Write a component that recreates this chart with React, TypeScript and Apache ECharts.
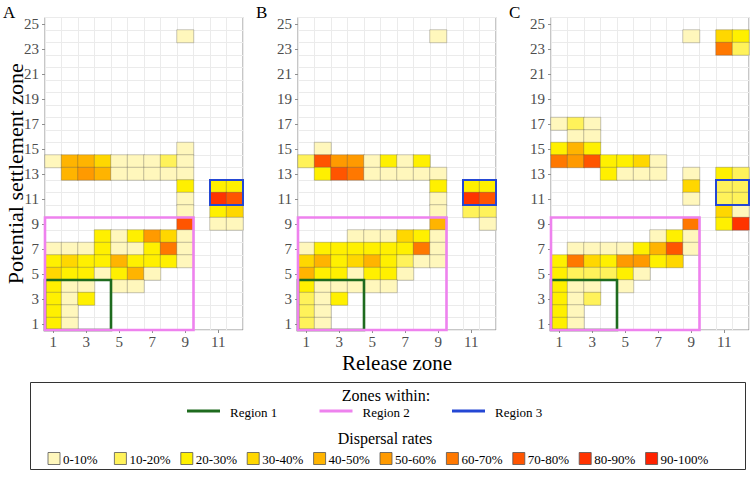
import React, { useEffect, useRef } from 'react';
import * as echarts from 'echarts';

const releaseZones = ['1', '2', '3', '4', '5', '6', '7', '8', '9', '10', '11', '12'];
const settlementZones = ['1', '2', '3', '4', '5', '6', '7', '8', '9', '10', '11', '12', '13', '14', '15', '16', '17', '18', '19', '20', '21', '22', '23', '24', '25'];

const rateLabels = ['0-10%', '10-20%', '20-30%', '30-40%', '40-50%', '50-60%', '60-70%', '70-80%', '80-90%', '90-100%'];
const rateColors = ['#FFF7BC', '#FFF25A', '#FFF000', '#FFD700', '#FFB400', '#FF9A00', '#FF7800', '#FF5500', '#FF3300', '#FF2200'];

const panelLabels = ['A', 'B', 'C'];

// [release zone, settlement zone, dispersal-rate class]
const panelA = [
  [9, 24, 0],
  [9, 15, 0],
  [1, 14, 0], [2, 14, 4], [3, 14, 4], [4, 14, 3], [5, 14, 0], [6, 14, 0], [7, 14, 0], [8, 14, 1], [9, 14, 0],
  [2, 13, 4], [3, 13, 5], [4, 13, 4], [5, 13, 0], [6, 13, 0], [7, 13, 0], [8, 13, 0], [9, 13, 0],
  [9, 12, 2], [11, 12, 2], [12, 12, 2],
  [9, 11, 0], [11, 11, 8], [12, 11, 7],
  [9, 10, 0], [11, 10, 2], [12, 10, 3],
  [9, 9, 7], [11, 9, 0], [12, 9, 0],
  [4, 8, 2], [5, 8, 0], [6, 8, 2], [7, 8, 5], [8, 8, 3], [9, 8, 0],
  [1, 7, 0], [2, 7, 0], [3, 7, 0], [4, 7, 2], [5, 7, 0], [6, 7, 0], [7, 7, 2], [8, 7, 6], [9, 7, 0],
  [1, 6, 2], [2, 6, 3], [3, 6, 2], [4, 6, 2], [5, 6, 4], [6, 6, 2], [7, 6, 2], [8, 6, 2], [9, 6, 0],
  [1, 5, 3], [2, 5, 2], [3, 5, 2], [4, 5, 0], [5, 5, 2], [6, 5, 4], [7, 5, 0],
  [1, 4, 2], [2, 4, 0], [3, 4, 0], [5, 4, 0], [6, 4, 0],
  [1, 3, 2], [2, 3, 0], [3, 3, 2],
  [1, 2, 2], [2, 2, 0],
  [1, 1, 2], [2, 1, 0],
];

const panelB = [
  [9, 24, 0],
  [2, 15, 0],
  [1, 14, 1], [2, 14, 7], [3, 14, 5], [4, 14, 5], [5, 14, 0], [6, 14, 2], [7, 14, 0], [8, 14, 2],
  [2, 13, 2], [3, 13, 7], [4, 13, 6], [5, 13, 0], [6, 13, 0], [7, 13, 0], [8, 13, 0], [9, 13, 0],
  [9, 12, 2], [11, 12, 2], [12, 12, 2],
  [9, 11, 0], [11, 11, 8], [12, 11, 7],
  [9, 10, 0], [11, 10, 1], [12, 10, 1],
  [9, 9, 4], [12, 9, 0],
  [4, 8, 0], [5, 8, 0], [6, 8, 0], [7, 8, 3], [8, 8, 2], [9, 8, 0],
  [1, 7, 0], [2, 7, 2], [3, 7, 2], [4, 7, 2], [5, 7, 2], [6, 7, 2], [7, 7, 2], [8, 7, 6], [9, 7, 0],
  [1, 6, 3], [2, 6, 4], [3, 6, 2], [4, 6, 3], [5, 6, 4], [6, 6, 2], [7, 6, 1], [8, 6, 0], [9, 6, 0],
  [1, 5, 4], [2, 5, 2], [3, 5, 2], [4, 5, 0], [5, 5, 2], [6, 5, 2], [7, 5, 0],
  [1, 4, 2], [2, 4, 0], [3, 4, 0], [4, 4, 0], [5, 4, 0], [6, 4, 0],
  [1, 3, 1], [2, 3, 0], [3, 3, 2],
  [1, 2, 1], [2, 2, 0],
  [1, 1, 1], [2, 1, 0],
];

const panelC = [
  [9, 24, 0], [11, 24, 3], [12, 24, 2],
  [11, 23, 6], [12, 23, 1],
  [1, 17, 0], [2, 17, 1], [3, 17, 0],
  [2, 16, 0], [3, 16, 0],
  [1, 15, 2], [2, 15, 4], [3, 15, 2],
  [1, 14, 6], [2, 14, 5], [3, 14, 7], [4, 14, 2], [5, 14, 2], [6, 14, 3], [7, 14, 0],
  [4, 13, 2], [5, 13, 0], [6, 13, 0], [7, 13, 0], [9, 13, 0], [11, 13, 2], [12, 13, 1],
  [9, 12, 3], [11, 12, 1], [12, 12, 1],
  [9, 11, 0], [11, 11, 1], [12, 11, 1],
  [11, 10, 3], [12, 10, 0],
  [9, 9, 6], [11, 9, 2], [12, 9, 8],
  [7, 8, 0], [8, 8, 2], [9, 8, 0],
  [2, 7, 0], [3, 7, 0], [4, 7, 0], [5, 7, 0], [6, 7, 2], [7, 7, 4], [8, 7, 7], [9, 7, 0],
  [1, 6, 2], [2, 6, 6], [3, 6, 3], [4, 6, 2], [5, 6, 5], [6, 6, 5], [7, 6, 2], [8, 6, 3],
  [1, 5, 2], [2, 5, 1], [3, 5, 1], [4, 5, 1], [5, 5, 2], [6, 5, 0],
  [1, 4, 2], [2, 4, 0], [3, 4, 0], [5, 4, 0],
  [1, 3, 2], [2, 3, 0], [3, 3, 1],
  [1, 2, 2], [2, 2, 0],
  [1, 1, 2], [2, 1, 0],
];

const regionNames = ['Region 1', 'Region 2', 'Region 3'];
const regionColors = ['#1E6B1E', '#EE82EE', '#2447D4'];
// [release from, settlement from, release to, settlement to]
const regionBoxes = [
  [1, 1, 4, 4],
  [1, 1, 9, 9],
  [11, 11, 12, 12],
];

const FONT = 'Liberation Serif, serif';
const panels = [panelA, panelB, panelC];
const gridLefts = [45, 298, 551];
const GRID_TOP = 17.5;
const GRID_W = 198;
const GRID_H = 312.5;

export default function App() {
  const ref = useRef<HTMLDivElement>(null);

  useEffect(() => {
    if (!ref.current) return;
    const chart = echarts.init(ref.current, null, { renderer: 'svg' });

    const grid = gridLefts.map((left) => ({
      left,
      top: GRID_TOP,
      width: GRID_W,
      height: GRID_H,
      show: true,
      borderColor: '#8f8f8f',
      borderWidth: 1,
      backgroundColor: '#ffffff',
    }));

    const axisCommon = {
      axisLine: { show: false },
      axisTick: { show: true, alignWithLabel: true, interval: 1, length: 3, lineStyle: { color: '#8f8f8f' } },
      splitLine: { show: true, interval: 0, lineStyle: { color: '#ebebeb', width: 1 } },
    };

    const xAxis = panels.map((_, i) => ({
      type: 'category',
      gridIndex: i,
      data: releaseZones,
      ...axisCommon,
      axisLabel: { interval: 1, margin: 4, fontSize: 15, color: '#4d4d4d', fontFamily: FONT },
    }));

    const yAxis = panels.map((_, i) => ({
      type: 'category',
      gridIndex: i,
      data: settlementZones,
      ...axisCommon,
      axisLabel: { interval: 1, margin: 6, fontSize: 15, color: '#4d4d4d', fontFamily: FONT },
    }));

    const heatSeries = panels.map((d, i) => ({
      type: 'heatmap',
      xAxisIndex: i,
      yAxisIndex: i,
      data: d.map(([x, y, r]) => [x - 1, y - 1, r]),
      itemStyle: { borderColor: 'rgba(80,80,80,0.45)', borderWidth: 0.7 },
      emphasis: { disabled: true },
      z: 2,
    }));

    const boxSeries = panels.map((_, i) => ({
      type: 'custom',
      xAxisIndex: i,
      yAxisIndex: i,
      z: 5,
      silent: true,
      data: regionBoxes.map((b, k) => [b[0] - 1, b[1] - 1, b[2] - 1, b[3] - 1, k]),
      renderItem: (params: any, api: any) => {
        const p0 = api.coord([api.value(0), api.value(1)]);
        const p1 = api.coord([api.value(2), api.value(3)]);
        const s = api.size([1, 1]);
        const k = api.value(4);
        return {
          type: 'rect',
          shape: {
            x: p0[0] - s[0] / 2,
            y: p1[1] - s[1] / 2,
            width: p1[0] - p0[0] + s[0],
            height: p0[1] - p1[1] + s[1],
          },
          style: { fill: 'none', stroke: regionColors[k], lineWidth: k === 2 ? 2 : 2.6 },
        };
      },
    }));

    const graphics: any[] = [];
    panelLabels.forEach((t, i) => {
      graphics.push({
        type: 'text',
        x: gridLefts[i] - 42,
        y: 4,
        style: { text: t, fontSize: 17, fontFamily: FONT, fill: '#000' },
      });
    });
    graphics.push({
      type: 'text',
      x: 15,
      y: GRID_TOP + GRID_H / 2,
      rotation: Math.PI / 2,
      style: { text: 'Potential settlement zone', fontSize: 22, fontFamily: FONT, fill: '#000', align: 'center', verticalAlign: 'middle' },
    });
    graphics.push({
      type: 'text',
      x: gridLefts[1] + GRID_W / 2,
      y: 363,
      style: { text: 'Release zone', fontSize: 21, fontFamily: FONT, fill: '#000', align: 'center', verticalAlign: 'middle' },
    });
    // legend box
    graphics.push({
      type: 'rect',
      shape: { x: 30.5, y: 382.5, width: 715, height: 87 },
      style: { fill: '#fff', stroke: '#333', lineWidth: 1 },
    });
    graphics.push({
      type: 'text',
      x: 386,
      y: 395,
      style: { text: 'Zones within:', fontSize: 16, fontFamily: FONT, fill: '#000', align: 'center', verticalAlign: 'middle' },
    });
    regionNames.forEach((n, k) => {
      const lx = 187 + k * 132.5;
      graphics.push({
        type: 'line',
        shape: { x1: lx, y1: 411, x2: lx + 33, y2: 411 },
        style: { stroke: regionColors[k], lineWidth: 3 },
      });
      graphics.push({
        type: 'text',
        x: lx + 43,
        y: 412,
        style: { text: n, fontSize: 13, fontFamily: FONT, fill: '#000', align: 'left', verticalAlign: 'middle' },
      });
    });
    graphics.push({
      type: 'text',
      x: 385,
      y: 438,
      style: { text: 'Dispersal rates', fontSize: 16, fontFamily: FONT, fill: '#000', align: 'center', verticalAlign: 'middle' },
    });
    rateLabels.forEach((t, k) => {
      const kx = 48 + k * 66.4;
      graphics.push({
        type: 'rect',
        shape: { x: kx, y: 452.5, width: 12, height: 12 },
        style: { fill: rateColors[k], stroke: '#555', lineWidth: 0.8 },
      });
      graphics.push({
        type: 'text',
        x: kx + 15,
        y: 459,
        style: { text: t, fontSize: 13, fontFamily: FONT, fill: '#000', align: 'left', verticalAlign: 'middle' },
      });
    });

    chart.setOption({
      animation: false,
      backgroundColor: '#ffffff',
      grid,
      xAxis,
      yAxis,
      visualMap: {
        type: 'piecewise',
        show: false,
        dimension: 2,
        seriesIndex: [0, 1, 2],
        pieces: rateColors.map((c, i) => ({ value: i, color: c })),
      },
      series: [...heatSeries, ...boxSeries],
      graphic: { elements: graphics },
    });

    return () => chart.dispose();
  }, []);

  return <div ref={ref} style={{ position: 'absolute', left: 0, top: 0, width: 750, height: 481 }} />;
}
